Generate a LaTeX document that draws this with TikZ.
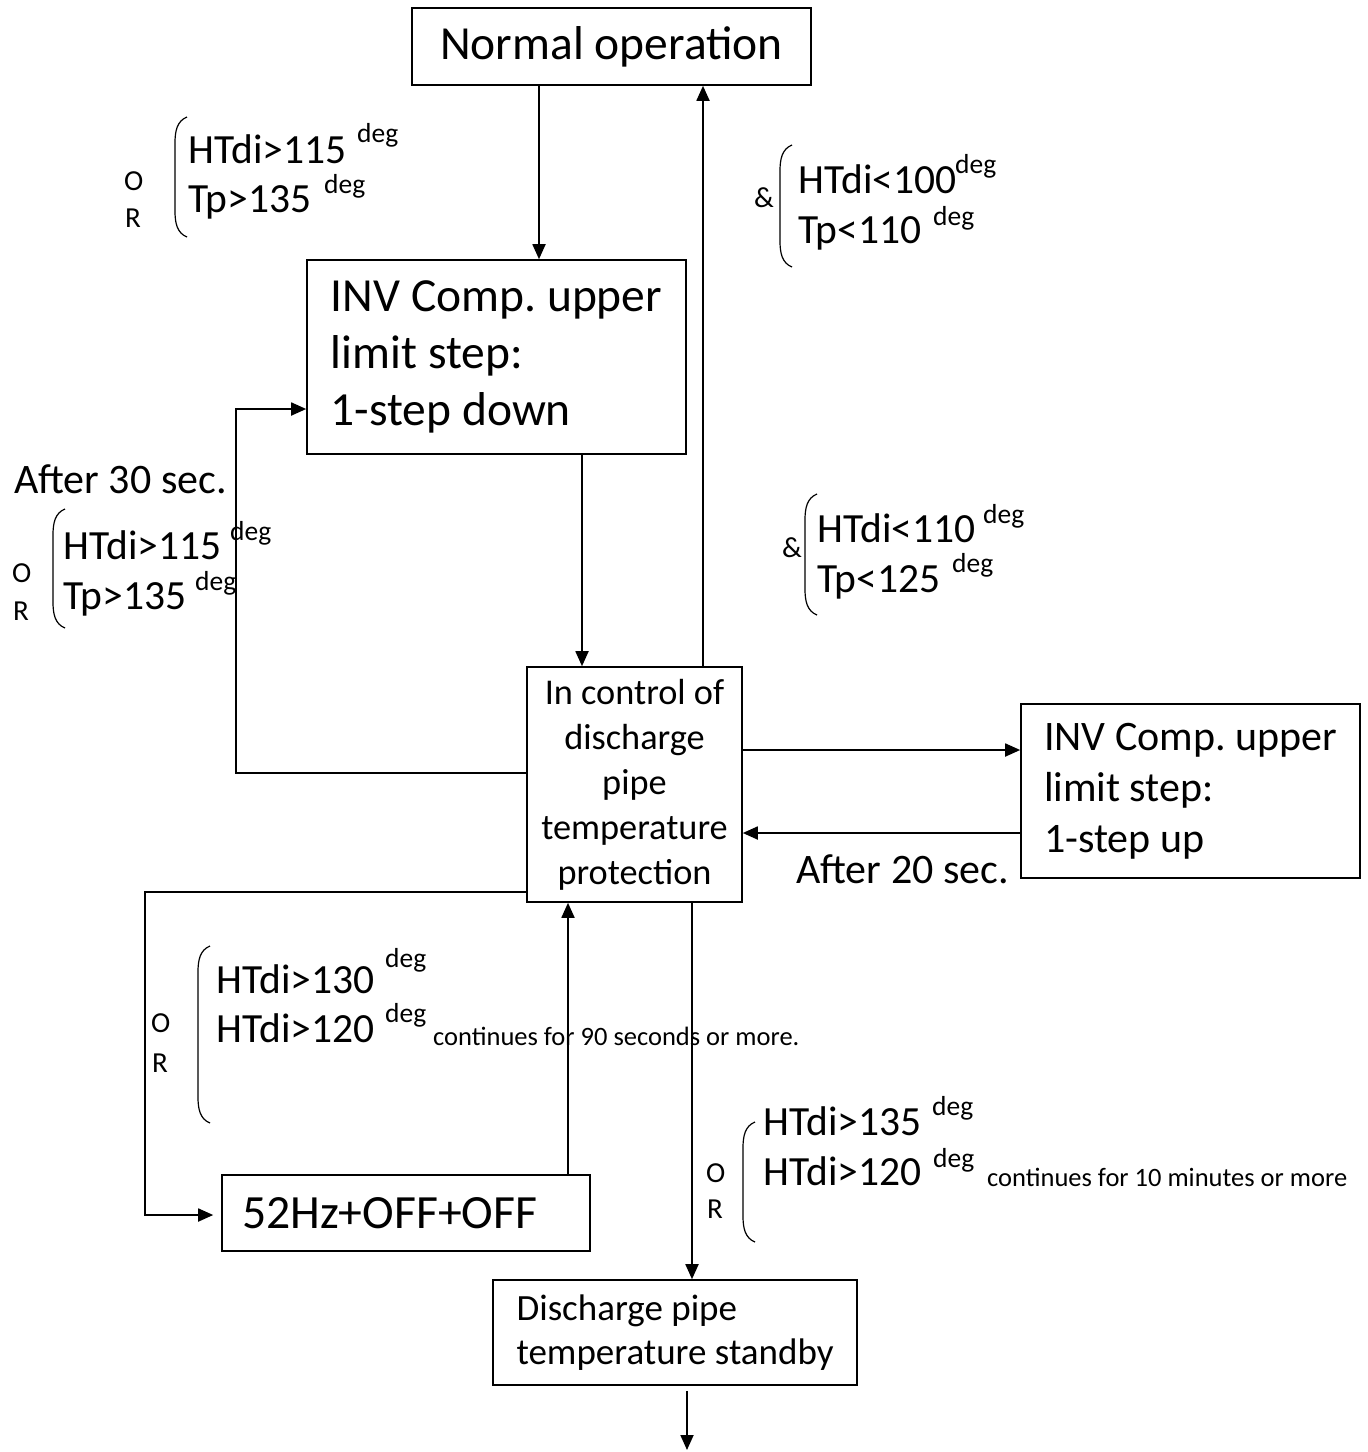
\documentclass[tikz,border=0pt]{standalone}
\usepackage{fontspec}
\setmainfont{Carlito}
\usetikzlibrary{arrows.meta}
\frenchspacing
\newcommand\condbrace[3]{\draw[brace] (#1+12,#2) .. controls (#1+2,#2+4) and (#1,#2+14) .. (#1,#2+26) -- (#1,#3-26) .. controls (#1,#3-14) and (#1+2,#3-4) .. (#1+12,#3);}
\begin{document}
\begin{tikzpicture}[x=1pt,y=-1pt,
  box/.style={draw, line width=1.6pt, inner sep=0pt},
  arr/.style={line width=1.8pt, -{Triangle[length=15pt,width=13pt]}},
  cond/.style={font=\fontsize{41.5}{49}\selectfont, anchor=base west, inner sep=0pt},
  degt/.style={font=\fontsize{27.5}{30}\selectfont, anchor=base west, inner sep=0pt},
  orl/.style={font=\fontsize{29}{32}\selectfont, anchor=base west, inner sep=0pt},
  amp/.style={font=\fontsize{29}{32}\selectfont, anchor=base west, inner sep=0pt},
  aft/.style={font=\fontsize{42}{50}\selectfont, anchor=base west, inner sep=0pt},
  note/.style={font=\fontsize{26.5}{30}\selectfont, anchor=base west, inner sep=0pt},
  brace/.style={line width=1.2pt}]
\useasboundingbox (0,0) rectangle (1368,1452);

% boxes
\node[box, minimum width=399pt, minimum height=77pt, font=\fontsize{47.5}{56}\selectfont] (normal) at (611.5,46.5) {Normal operation};
\node[box, minimum width=379pt, minimum height=194pt, align=left, font=\fontsize{47.5}{57}\selectfont] (inv1) at (496.5,357) {INV Comp. upper\\limit step:\\1-step down};
\node[box, minimum width=215pt, minimum height=235pt, align=center, font=\fontsize{36.3}{45}\selectfont] (ctrl) at (634.5,784.5) {In control of\\discharge\\pipe\\temperature\\protection};
\node[box, minimum width=339pt, minimum height=174pt, align=left, font=\fontsize{42}{51}\selectfont] (inv2) at (1190.5,791) {INV Comp. upper\\limit step:\\1-step up};
\node[box, minimum width=368pt, minimum height=76pt, inner xsep=20pt, text width=328pt, align=left, font=\fontsize{47.7}{56}\selectfont] (hz) at (406,1213) {52Hz+OFF+OFF};
\node[box, minimum width=364pt, minimum height=105pt, align=left, font=\fontsize{37}{44}\selectfont] (stby) at (675,1332.5) {Discharge pipe\\temperature standby};
\coordinate (bottom) at (687,1450);

% connectors
\draw[arr] (539,0 |- normal.south) -- (539,0 |- inv1.north);
\draw[arr] (582,0 |- inv1.south) -- (582,0 |- ctrl.north);
\draw[arr] (703,0 |- ctrl.north) -- (703,0 |- normal.south);
\draw[arr] (0,773 -| ctrl.west) -- (236,773) -- (236,409) -- (0,409 -| inv1.west);
\draw[arr] (0,750 -| ctrl.east) -- (0,750 -| inv2.west);
\draw[arr] (0,833 -| inv2.west) -- (0,833 -| ctrl.east);
\draw[arr, shorten >=8pt] (0,892 -| ctrl.west) -- (145,892) -- (145,1215) -- (0,1215 -| hz.west);
\draw[arr] (568,0 |- hz.north) -- (568,0 |- ctrl.south);
\draw[arr] (692,0 |- ctrl.south) -- (692,0 |- stby.north);
\draw[arr, shorten <=5pt] (stby.south -| bottom) -- (bottom);

% group 1
\node[orl] (g1o) at (124,190) {O};
\node[orl] (g1r) at (125,227) {R};
\condbrace{175}{117}{237}
\node[cond] (g1a) at (188,163) {HTdi>115};
\node[degt] (g1ad) at (357,142) {deg};
\node[cond] (g1b) at (188,212) {Tp>135};
\node[degt] (g1bd) at (324,193) {deg};

% group 2
\node[amp] (g2amp) at (754,207) {\&};
\condbrace{780}{145}{267}
\node[cond] (g2a) at (798,193) {HTdi<100};
\node[degt] (g2ad) at (955,173) {deg};
\node[cond] (g2b) at (798,243) {Tp<110};
\node[degt] (g2bd) at (933,225) {deg};

% group 3
\node[aft] (after30) at (14,493) {After 30 sec.};
\node[orl] (g3o) at (12,582) {O};
\node[orl] (g3r) at (13,620) {R};
\condbrace{53}{509}{628}
\node[cond] (g3a) at (63,559) {HTdi>115};
\node[degt] (g3ad) at (230,540) {deg};
\node[cond] (g3b) at (63,609) {Tp>135};
\node[degt] (g3bd) at (195,590) {deg};

% group 4
\node[amp] (g4amp) at (782,557) {\&};
\condbrace{805}{494}{615}
\node[cond] (g4a) at (817,542) {HTdi<110};
\node[degt] (g4ad) at (983,523) {deg};
\node[cond] (g4b) at (817,592) {Tp<125};
\node[degt] (g4bd) at (952,572) {deg};

\node[aft] (after20) at (796,883) {After 20 sec.};

% group 5
\node[orl] (g5o) at (151,1032) {O};
\node[orl] (g5r) at (152,1072) {R};
\condbrace{198}{946}{1123}
\node[cond] (g5a) at (216,993) {HTdi>130};
\node[degt] (g5ad) at (385,967) {deg};
\node[cond] (g5b) at (216,1042) {HTdi>120};
\node[degt] (g5bd) at (385,1022) {deg};
\node[note] (g5n) at (433,1045) {continues for 90 seconds or more.};

% group 6
\node[orl] (g6o) at (706,1182) {O};
\node[orl] (g6r) at (707,1218) {R};
\condbrace{743}{1122}{1242}
\node[cond] (g6a) at (763,1135) {HTdi>135};
\node[degt] (g6ad) at (932,1115) {deg};
\node[cond] (g6b) at (763,1185) {HTdi>120};
\node[degt] (g6bd) at (933,1167) {deg};
\node[note] (g6n) at (987,1186) {continues for 10 minutes or more};
\end{tikzpicture}
\end{document}
